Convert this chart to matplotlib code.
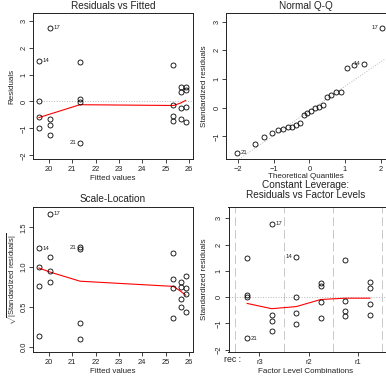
import numpy as np
import matplotlib
matplotlib.use("Agg")
import matplotlib.pyplot as plt
from statistics import NormalDist

plt.rcParams['font.family'] = ['Liberation Sans', 'DejaVu Sans']
plt.rcParams['mathtext.fontset'] = 'custom'
plt.rcParams['mathtext.rm'] = 'Liberation Sans'

# ------------------ DADOS ------------------
fitted_levels = [19.57, 20.04, 21.33, 25.33, 25.64, 25.86]
factor_pos = [2, 1, 0, 4, 5, 3]          # posicao de cada grupo no painel de fatores
residuals = [
    [1.51, 0.02, -0.58, -0.99],
    [2.74, -0.65, -0.88, -1.26],
    [1.47, 0.09, -0.01, -1.54],
    [1.37, -0.13, -0.53, -0.72],
    [0.55, 0.36, -0.25, -0.66],
    [0.53, 0.43, -0.19, -0.77],
]
point_labels = {0: '14', 4: '17', 11: '21'}   # indice (achatado) -> numero da observacao
smooth_fitted = [-0.60, -0.47, -0.12, -0.15, -0.06, 0.04]
smooth_scale = [0.99, 0.94, 0.825, 0.76, 0.70, 0.65]
smooth_factor = [-0.24, -0.44, -0.36, -0.09, -0.04, -0.04]
factor_levels = ['r3', 'r2', 'r1']
factor_name = 'rec'

# ------------------ CALCULOS ------------------
n_per = 4
x_fit = np.repeat(fitted_levels, n_per)
x_fac = np.repeat(factor_pos, n_per).astype(float)
r = np.array(residuals).ravel()
n = len(r)
p = len(fitted_levels)
h = 1.0 / n_per
s = np.sqrt(np.sum(r ** 2) / (n - p))
rs = r / (s * np.sqrt(1 - h))
sl = np.sqrt(np.abs(rs))

nd = NormalDist()
theo = np.array([nd.inv_cdf((i + 0.5) / n) for i in range(n)])
qx = np.empty(n)
qx[np.argsort(rs)] = theo
q1, q3 = np.quantile(rs, [0.25, 0.75])
t1, t3 = nd.inv_cdf(0.25), nd.inv_cdf(0.75)
qq_slope = (q3 - q1) / (t3 - t1)
qq_int = q1 - qq_slope * t1

# ------------------ FIGURA ------------------
W = H = 386
fig = plt.figure(figsize=(W / 100, H / 100), dpi=100)
TICK = 5.4
LAB = 5.8
TIT = 7.2
PT = 4.3


def painel(l, t, rr, b, xlim, ylim):
    ax = fig.add_axes([l / W, 1 - b / H, (rr - l) / W, (b - t) / H])
    ax.set_xlim(*xlim)
    ax.set_ylim(*ylim)
    for sp in ax.spines.values():
        sp.set_linewidth(0.7)
        sp.set_color('#222222')
    ax.tick_params(direction='out', length=2.9, width=0.6, pad=1.6,
                   labelsize=TICK, colors='#222222')
    ax.tick_params(axis='y', labelrotation=90, pad=1.2)
    return ax


def centrar_y(ax):
    for lab in ax.get_yticklabels():
        lab.set_va('center')


def texto(x, y, s, size=LAB, rot=0, **kw):
    fig.text(x / W, 1 - y / H, s, fontsize=size, rotation=rot,
             ha=kw.pop('ha', 'center'), va=kw.pop('va', 'center'), color='#222222', **kw)


def pontos(ax, x, y):
    ax.plot(x, y, 'o', mfc='none', mec='black', ms=3.6, mew=0.6, zorder=3)


def rotulos(ax, x, y):
    idx = list(point_labels)
    xs = x[idx]
    meio = (xs.min() + xs.max()) / 2
    for i in idx:
        esquerda = x[i] > meio
        ax.annotate(point_labels[i], (x[i], y[i]), xytext=(-2.6 if esquerda else 2.6, 0),
                    textcoords='offset points', ha='right' if esquerda else 'left',
                    va='center', fontsize=PT, color='#222222')


# --- Residuals vs Fitted ---
ax1 = painel(33.3, 12.7, 192.5, 159.3, (19.33, 26.15), (-2.15, 3.3))
ax1.axhline(0, color='#b8b8b8', lw=0.7, ls=':')
pontos(ax1, x_fit, r)
ax1.plot(fitted_levels, smooth_fitted, color='red', lw=0.8)
rotulos(ax1, x_fit, r)
ax1.set_xticks(range(20, 27))
ax1.set_yticks(range(-2, 4))
centrar_y(ax1)
texto(112.9, 6, 'Residuals vs Fitted', size=TIT)
texto(112.9, 178.5, 'Fitted values')
texto(11.5, 86, 'Residuals', rot=90)

# --- Normal Q-Q ---
ax2 = painel(226.3, 12.7, 385.6, 159.3, (-2.33, 2.14), (-1.8, 3.31))
xx = np.array([-2.33, 2.14])
ax2.plot(xx, qq_int + qq_slope * xx, color='#b8b8b8', lw=0.7, ls=':')
pontos(ax2, qx, rs)
rotulos(ax2, qx, rs)
ax2.set_xticks(range(-2, 3))
ax2.set_yticks(range(-1, 4))
centrar_y(ax2)
texto(306, 6, 'Normal Q-Q', size=TIT)
texto(306, 176.5, 'Theoretical Quantiles')
texto(204.5, 86, 'Standardized residuals', rot=90)

# --- Scale-Location ---
ax3 = painel(33.3, 206.5, 192.5, 352.3, (19.33, 26.15), (-0.065, 1.76))
pontos(ax3, x_fit, sl)
ax3.plot(fitted_levels, smooth_scale, color='red', lw=0.8)
rotulos(ax3, x_fit, sl)
ax3.set_xticks(range(20, 27))
ax3.set_yticks([0.0, 0.5, 1.0, 1.5])
ax3.set_yticklabels(['0.0', '0.5', '1.0', '1.5'])
centrar_y(ax3)
texto(112.9, 199.5, 'Scale-Location', size=TIT)
texto(112.9, 371.5, 'Fitted values')
texto(12.5, 279, r'$\sqrt{|\mathrm{Standardized\ residuals}|}$', size=5.4, rot=90)

# --- Residuals vs Factor Levels ---
ax4 = painel(228.5, 206.5, 385.6, 352.3, (-0.76, 5.64), (-2.1, 3.45))
for v in [-0.5, 1.5, 3.5, 5.5]:
    ax4.axvline(v, color='#c8c8c8', lw=0.7, ls=(0, (9, 4)))
ax4.axhline(0, color='#b8b8b8', lw=0.7, ls=':')
pontos(ax4, x_fac, rs)
ax4.plot(range(6), smooth_factor, color='red', lw=0.8)
rotulos(ax4, x_fac, rs)
ax4.set_xticks([0.5, 2.5, 4.5])
ax4.set_xticklabels(factor_levels)
ax4.set_yticks(range(-2, 4))
centrar_y(ax4)
texto(306, 185.5, 'Constant Leverage:', size=TIT)
texto(306, 194.5, 'Residuals vs Factor Levels', size=TIT)
texto(306, 371.5, 'Factor Level Combinations')
texto(204.5, 279, 'Standardized residuals', rot=90)
texto(240.5, 359.5, factor_name + ' :', size=6.3, ha='right')

fig.savefig('out.png', dpi=100)
